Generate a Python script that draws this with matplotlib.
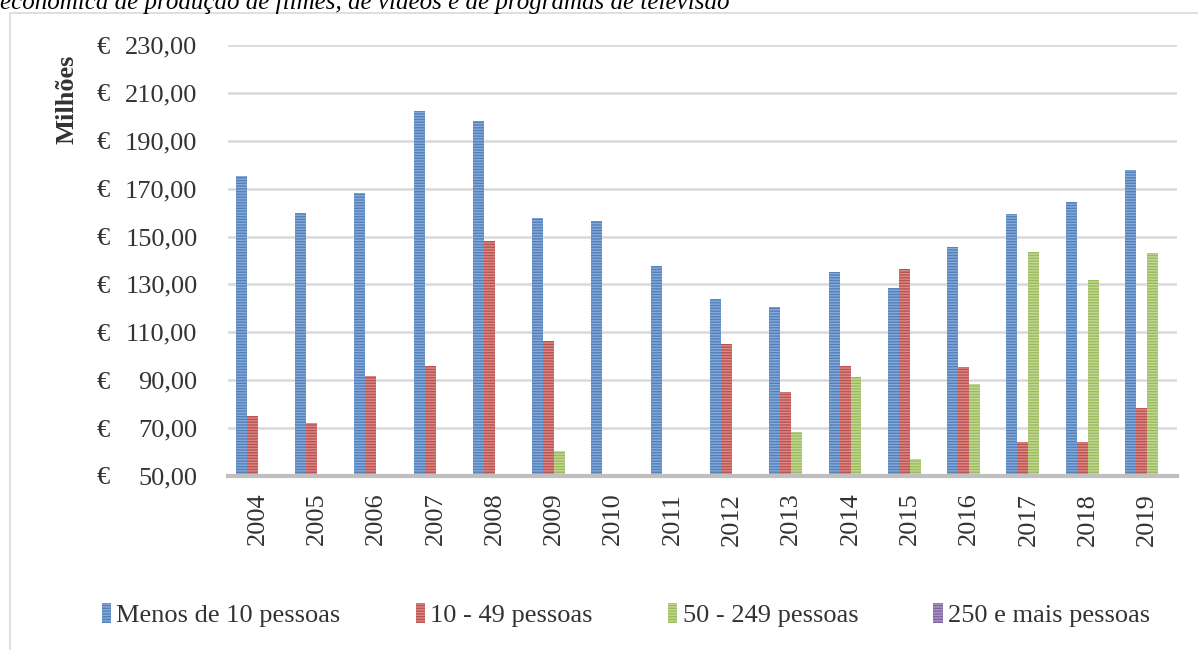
import matplotlib.pyplot as plt
import numpy as np
from matplotlib.patches import Rectangle, Patch
from matplotlib.transforms import blended_transform_factory
import matplotlib
matplotlib.use("Agg")

plt.rcParams['font.family'] = ['Liberation Serif', 'DejaVu Serif']
plt.rcParams['hatch.linewidth'] = 1.0

anos = ["2004", "2005", "2006", "2007", "2008", "2009", "2010", "2011",
        "2012", "2013", "2014", "2015", "2016", "2017", "2018", "2019"]

menos_10 = [175.3, 160.0, 168.2, 202.4, 198.2, 157.8, 156.5, 137.5,
            124.0, 120.5, 135.3, 128.6, 145.5, 159.6, 164.3, 177.8]
de_10_49 = [75.1, 72.2, 91.8, 96.0, 148.3, 106.4, np.nan, np.nan,
            105.0, 84.9, 96.1, 136.5, 95.5, 64.4, 64.4, 78.2]
de_50_249 = [np.nan, np.nan, np.nan, np.nan, np.nan, 60.3, np.nan, np.nan,
             np.nan, 68.3, 91.3, 57.1, 88.3, 143.6, 131.7, 143.2]
mais_250 = [np.nan] * 16

series = [menos_10, de_10_49, de_50_249, mais_250]
nomes = ["Menos de 10 pessoas", "10 - 49 pessoas", "50 - 249 pessoas", "250 e mais pessoas"]
cores = ["#4F81BD", "#C0504D", "#9BBB59", "#8064A2"]
riscas = ["#8AA9D6", "#D68C8A", "#C2D89A", "#A995C4"]

W, H = 1198, 650
fig = plt.figure(figsize=(W / 100, H / 100), dpi=100)
ax = fig.add_axes([228 / W, 1 - 476 / H, (1176.6 - 228) / W, (476 - 45) / H])

x = np.arange(len(anos))
w = 0.185
for k, (vals, cor, risca) in enumerate(zip(series, cores, riscas)):
    ax.bar(x + (k - 1.5) * w, vals, width=w, color=cor, edgecolor=risca,
           linewidth=0, hatch="------", zorder=2)

ax.set_ylim(50, 230)
ax.set_xlim(-0.5, len(anos) - 0.5)
ticks = np.arange(50, 231, 20)
ax.set_yticks(ticks)
ax.set_yticklabels([f"{t:.2f}".replace(".", ",") for t in ticks], fontsize=19)
ax.set_xticks(x)
ax.set_xticklabels(anos, rotation=90, fontsize=19)
ax.tick_params(axis="y", length=0, pad=22)
ax.tick_params(axis="x", length=0, pad=12)
for lbl in ax.get_xticklabels() + ax.get_yticklabels():
    lbl.set_color("#333333")

# simbolo do euro alinhado à esquerda (formato contabilidade)
trans = blended_transform_factory(fig.transFigure, ax.transData)
for t in ticks:
    ax.text(97 / W, t, "€", transform=trans, fontsize=19, ha="left",
            va="center_baseline", color="#333333", clip_on=False)

ax.grid(axis="y", color="#D9D9D9", linewidth=1.8, zorder=0)
ax.set_axisbelow(True)
for s in ["top", "right", "left"]:
    ax.spines[s].set_visible(False)
ax.spines["bottom"].set_color("#BFBFBF")
ax.spines["bottom"].set_linewidth(3)
ax.spines["bottom"].set_zorder(3)

fig.text(67 / W, 1 - 99 / H, "Milhões", rotation=90, fontsize=19,
         fontweight="bold", ha="center", va="center", color="#333333")

handles = [Patch(facecolor=c, edgecolor=r, linewidth=0, hatch="------")
           for c, r in zip(cores, riscas)]
leg = fig.legend(handles, nomes, loc="center", bbox_to_anchor=(626 / W, 1 - 615 / H),
                 ncol=4, frameon=False, fontsize=19, handlelength=0.35,
                 handleheight=0.8, handletextpad=0.2, columnspacing=2.85)
for t in leg.get_texts():
    t.set_color("#333333")

fig.text(0, 1 - 9 / H, "económica de produção de filmes, de vídeos e de programas de televisão",
         fontsize=18, style="italic", ha="left", va="baseline", color="#000000")

fig.patches.append(Rectangle((10 / W, -0.1), 1.2, 1.1 - 13 / H, fill=False,
                             edgecolor="#D9D9D9", linewidth=1.2,
                             transform=fig.transFigure, figure=fig))

fig.savefig("out.png", dpi=100)
